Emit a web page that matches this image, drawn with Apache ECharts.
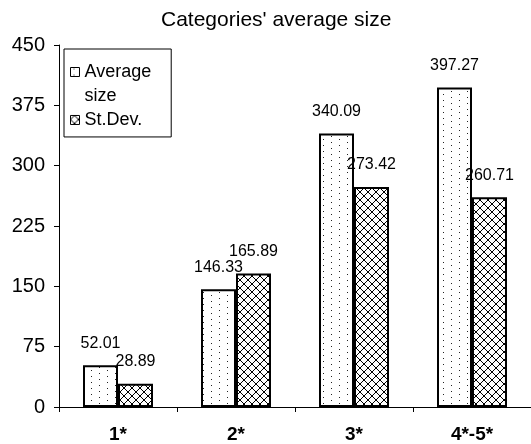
<!DOCTYPE html>
<html>
<head>
<meta charset="utf-8">
<script src="https://cdn.jsdelivr.net/npm/echarts@6/dist/echarts.min.js"></script>
<style>
  html, body { margin: 0; padding: 0; background: #fff; }
  #chart { width: 531px; height: 444px; }
</style>
</head>
<body>
<div id="chart"></div>
<script>
const categories = ['1*', '2*', '3*', '4*-5*'];
const avgSize = [52.01, 146.33, 340.09, 397.27];
const stDev = [28.89, 165.89, 273.42, 260.71];
const seriesNames = ['Average size', 'St.Dev.'];
const yMin = 0, yMax = 450, yStep = 75;

function dotPattern() {
  const c = document.createElement('canvas');
  c.width = 16; c.height = 6;
  const g = c.getContext('2d');
  g.fillStyle = '#fff'; g.fillRect(0, 0, 16, 6);
  g.fillStyle = '#222';
  g.fillRect(3, 1, 1, 1);
  g.fillRect(11, 4, 1, 1);
  return c;
}
function crossPattern() {
  const c = document.createElement('canvas');
  c.width = 8; c.height = 8;
  const g = c.getContext('2d');
  g.fillStyle = '#fff'; g.fillRect(0, 0, 8, 8);
  g.fillStyle = '#000';
  for (let i = 0; i < 8; i++) {
    g.fillRect(i, i, 1, 1);
    g.fillRect(7 - i, i, 1, 1);
  }
  return c;
}

const FONT = 'Liberation Sans, Arial, sans-serif';
const chart = echarts.init(document.getElementById('chart'), null, { renderer: 'canvas' });

const labelOpt = {
  show: true, position: 'top', distance: 14,
  fontSize: 16, fontFamily: FONT, color: '#000',
  formatter: p => p.value.toFixed(2)
};

chart.setOption({
  animation: false,
  backgroundColor: '#fff',
  title: {
    text: "Categories' average size",
    left: 156, top: 5,
    textStyle: { fontFamily: FONT, fontSize: 21, fontWeight: 'normal', color: '#000' }
  },
  legend: {
    orient: 'vertical',
    left: 64, top: 49,
    padding: [11, 20, 0, 6],
    borderColor: '#000', borderWidth: 1,
    backgroundColor: '#fff',
    itemWidth: 9, itemHeight: 33,
    itemGap: -5,
    selectedMode: false,
    itemStyle: { borderColor: '#000', borderWidth: 1 },
    textStyle: { fontFamily: FONT, fontSize: 18, color: '#000', lineHeight: 24 },
    formatter: name => name === seriesNames[0] ? 'Average\nsize' : name,
    data: [
      { name: seriesNames[0], icon: 'path://M0,0H10V10H0Z M0,36.7L0.01,36.7' },
      { name: seriesNames[1], icon: 'path://M0,-13.3L0.01,-13.3 M0,0H10V10H0Z M0,23.3L0.01,23.3' }
    ]
  },
  grid: { left: 59, right: -5, top: 45, bottom: 36, containLabel: false },
  xAxis: {
    type: 'category',
    data: categories,
    axisLine: { lineStyle: { color: '#000', width: 1 } },
    axisTick: { show: true, length: 5, lineStyle: { color: '#000' } },
    axisLabel: { fontFamily: FONT, fontSize: 19, fontWeight: 'bold', color: '#000', margin: 18 }
  },
  yAxis: {
    type: 'value',
    min: yMin, max: yMax, interval: yStep,
    axisLine: { show: true, lineStyle: { color: '#000', width: 1 } },
    axisTick: { show: true, length: 5, lineStyle: { color: '#000' } },
    splitLine: { show: false },
    axisLabel: { fontFamily: FONT, fontSize: 20, color: '#000', margin: 14 }
  },
  series: [
    {
      name: seriesNames[0], type: 'bar', data: avgSize,
      barWidth: 35, barGap: '0%',
      itemStyle: { color: { image: dotPattern(), repeat: 'repeat' }, borderColor: '#000', borderWidth: 2 },
      label: labelOpt
    },
    {
      name: seriesNames[1], type: 'bar', data: stDev,
      barWidth: 35,
      itemStyle: { color: { image: crossPattern(), repeat: 'repeat' }, borderColor: '#000', borderWidth: 2 },
      label: labelOpt
    }
  ]
});
</script>
</body>
</html>
